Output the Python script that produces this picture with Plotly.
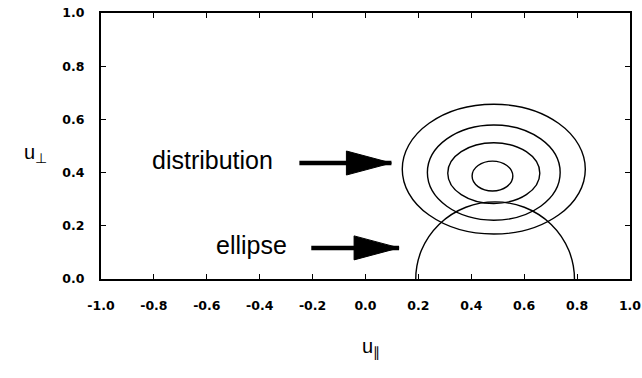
import plotly.graph_objects as go

# ---- data ----
x_ticks = [-1.0, -0.8, -0.6, -0.4, -0.2, 0.0, 0.2, 0.4, 0.6, 0.8, 1.0]
x_tick_labels = ["-1.0", "-0.8", "-0.6", "-0.4", "-0.2", "0.0", "0.2", "0.4", "0.6", "0.8", "1.0"]
y_ticks = [0.0, 0.2, 0.4, 0.6, 0.8, 1.0]
y_tick_labels = ["0.0", "0.2", "0.4", "0.6", "0.8", "1.0"]

# resonance ellipse (centered on the u_par axis)
ellipse_cx = 0.49
ellipse_cy = 0.0
ellipse_a = 0.30
ellipse_b = 0.29

# distribution contour levels (ellipses)
contour_cx = [0.48, 0.485, 0.485, 0.485]
contour_cy = [0.387, 0.398, 0.40, 0.413]
contour_a = [0.077, 0.174, 0.251, 0.346]
contour_b = [0.056, 0.114, 0.179, 0.244]

# labels and arrows
labels = ["distribution", "ellipse"]
label_x = [-0.58, -0.43]
label_y = [0.447, 0.128]
arrow_tail_x = [-0.25, -0.205]
arrow_tip_x = [0.098, 0.127]
arrow_y = [0.436, 0.117]

fig = go.Figure()
fig.add_trace(go.Scatter(x=[-1, 1], y=[0, 1], mode="markers",
                         marker=dict(opacity=0), hoverinfo="skip", showlegend=False))

shapes = []
line_style = dict(color="black", width=1.4)
for cx, cy, a, b in zip(contour_cx, contour_cy, contour_a, contour_b):
    shapes.append(dict(type="circle", xref="x", yref="y",
                       x0=cx - a, x1=cx + a, y0=cy - b, y1=cy + b, line=line_style))
shapes.append(dict(type="circle", xref="x", yref="y",
                   x0=ellipse_cx - ellipse_a, x1=ellipse_cx + ellipse_a,
                   y0=ellipse_cy - ellipse_b, y1=ellipse_cy + ellipse_b, line=line_style))

annotations = []
for t, tx, ty, x0, x1, ay in zip(labels, label_x, label_y, arrow_tail_x, arrow_tip_x, arrow_y):
    annotations.append(dict(x=tx, y=ty, xref="x", yref="y", text=t, showarrow=False,
                            font=dict(family="Liberation Sans, Arial", size=25, color="black")))
    shapes.append(dict(type="line", xref="x", yref="y", x0=x0, x1=x1, y0=ay, y1=ay,
                       line=dict(color="black", width=4.5)))
    shapes.append(dict(type="path", xref="x", yref="y", xsizemode="pixel", ysizemode="pixel",
                       xanchor=x1, yanchor=ay, path="M0,0 L-45,12 L-45,-12 Z",
                       fillcolor="black", line=dict(color="black", width=1)))

L, R, T, B = 101, 12, 13, 99
pw, ph = 642 - L - R, 378 - T - B
annotations.append(dict(x=(22 - L) / pw, y=(279 - 153) / ph, xref="paper", yref="paper",
                        text="u<sub>⊥</sub>", showarrow=False,
                        font=dict(family="Liberation Sans, Arial", size=20, color="black")))
annotations.append(dict(x=(371 - L) / pw, y=(279 - 362) / ph, xref="paper", yref="paper",
                        text="u<sub>∥</sub>", showarrow=False,
                        font=dict(family="Liberation Sans, Arial", size=20, color="black")))

fig.update_layout(
    width=642, height=378,
    margin=dict(l=L, r=R, t=T, b=B),
    paper_bgcolor="white", plot_bgcolor="white",
    shapes=shapes, annotations=annotations,
    showlegend=False,
)

tick_font = dict(family="DejaVu Sans", size=12.5, color="black", weight="bold")
fig.update_xaxes(range=[-1, 1], tickvals=x_ticks, ticktext=x_tick_labels, automargin=False,
                 showgrid=False, zeroline=False, showline=True, linecolor="black", linewidth=2,
                 mirror="allticks", ticks="inside", ticklen=5, tickwidth=1.3, tickcolor="black",
                 tickfont=tick_font, ticklabelstandoff=14, ticklabeloverflow="allow")
fig.update_yaxes(range=[0, 1], tickvals=y_ticks, ticktext=y_tick_labels, automargin=False,
                 showgrid=False, zeroline=False, showline=True, linecolor="black", linewidth=2,
                 mirror="allticks", ticks="inside", ticklen=5, tickwidth=1.3, tickcolor="black",
                 tickfont=tick_font, ticklabelstandoff=12, ticklabeloverflow="allow")

fig.write_html("out.html")
